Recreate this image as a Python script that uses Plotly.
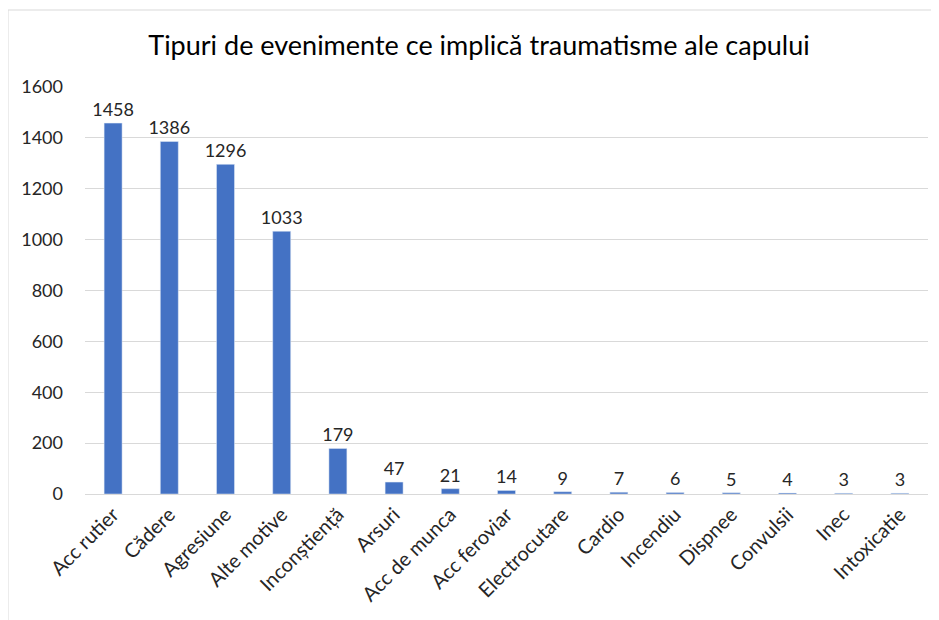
import plotly.graph_objects as go

categories = ["Acc rutier", "Cădere", "Agresiune", "Alte motive", "Inconștiență", "Arsuri",
              "Acc de munca", "Acc feroviar", "Electrocutare", "Cardio", "Incendiu",
              "Dispnee", "Convulsii", "Inec", "Intoxicatie"]
values = [1458, 1386, 1296, 1033, 179, 47, 21, 14, 9, 7, 6, 5, 4, 3, 3]
title_text = "Tipuri de evenimente ce implică traumatisme ale capului"

FONT = "Lato, Carlito, Calibri, sans-serif"
W, H = 939, 620
OFF = 8  # page body margin
ml, mr, mt, mb = 85 - OFF, 19, 87 - OFF, H - (494 - OFF)
pw, ph = W - ml - mr, H - mt - mb

fig = go.Figure(go.Bar(
    x=categories, y=values, marker_color="#4472C4",
    text=[str(v) for v in values], textposition="outside", cliponaxis=False,
    constraintext="none",
    textfont=dict(family=FONT, size=18, color="#262626"),
))

fig.update_layout(
    width=W, height=H,
    margin=dict(l=ml, r=mr, t=mt, b=mb, pad=0, autoexpand=False),
    paper_bgcolor="white", plot_bgcolor="white",
    bargap=0.68,
    showlegend=False,
    title=dict(text=title_text, x=(479 - OFF) / W, xanchor="center", y=1 - 38 / H, yanchor="middle",
               font=dict(family=FONT, size=27, color="#000000")),
    font=dict(family=FONT, color="#262626"),
)
fig.update_yaxes(range=[0, 1600], dtick=200, showgrid=True, gridcolor="#D9D9D9", gridwidth=1,
                 zeroline=False, showline=False, ticks="", automargin=False,
                 tickfont=dict(size=18, color="#262626"), ticklabelstandoff=21)
fig.update_xaxes(tickangle=-45, showline=True, linecolor="#D9D9D9", linewidth=1, ticks="",
                 automargin=False, tickfont=dict(size=20, color="#262626"))

# chart area border
x0 = (8 - OFF - ml) / pw
y1 = (H - mb - (10 - OFF)) / ph
fig.add_shape(type="rect", xref="paper", yref="paper", x0=x0, x1=1.2, y0=-0.5, y1=y1,
              line=dict(color="#D9D9D9", width=1), fillcolor="rgba(0,0,0,0)", layer="below")

fig.write_html("out.html")
